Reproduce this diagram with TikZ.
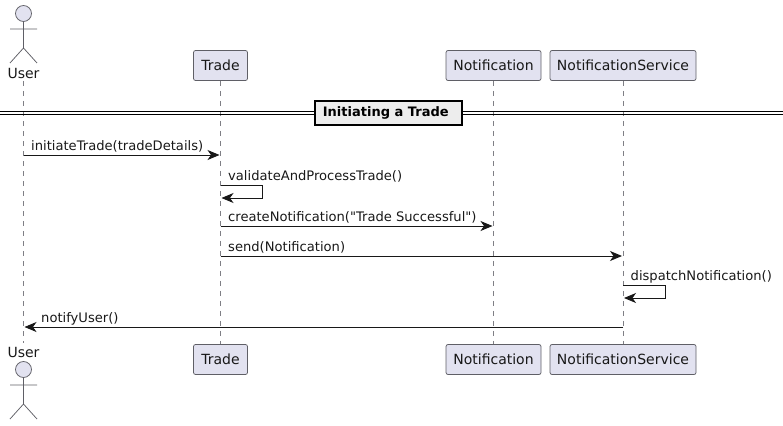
\documentclass[tikz,border=0pt]{standalone}
\usepackage{fontspec}
\newfontfamily\djv{DejaVu Sans}
\usetikzlibrary{arrows.meta}
\definecolor{pfill}{HTML}{E2E2F0}
\definecolor{pline}{HTML}{5F5F66}
\definecolor{ink}{HTML}{181818}
\tikzset{
  x=1pt,y=-1pt,
  part/.style={draw=pline,fill=pfill,rounded corners=2pt,line width=0.75pt,minimum height=30pt,inner sep=0pt,text=ink,font=\djv\fontsize{14}{16}\selectfont},
  actorname/.style={inner sep=0pt,text=ink,font=\djv\fontsize{14}{16}\selectfont},
  head/.style={circle,draw=pline,fill=pfill,line width=0.75pt,minimum size=16pt,inner sep=0pt},
  limb/.style={draw=pline,line width=0.75pt},
  life/.style={draw=pline!80,line width=0.5pt,dash pattern=on 5pt off 5pt},
  msg/.style={draw=ink,line width=0.9pt,-{Stealth[length=12pt,width=10pt,inset=3.5pt]}},
  msgtext/.style={inner sep=0pt,anchor=base west,text=ink,font=\djv\fontsize{13.1}{15}\selectfont},
  divline/.style={draw=black,line width=0.9pt},
  divbox/.style={draw=black,fill=black!7,line width=1.6pt,minimum width=147pt,minimum height=24pt,inner sep=0pt,font=\djv\fontsize{13}{15}\selectfont\bfseries}
}
\begin{document}
\begin{tikzpicture}
\useasboundingbox (0,0) rectangle (783,425);
% lifeline end nodes
\node[actorname] (ut) at (23.5,73) {User};
\node[actorname] (ub) at (23.5,352) {User};
\node[part,minimum width=54pt] (tt) at (220.5,65.5) {Trade};
\node[part,minimum width=54pt] (tb) at (220.5,359.5) {Trade};
\node[part,minimum width=95pt] (nt) at (493.5,65.5) {Notification};
\node[part,minimum width=95pt] (nb) at (493.5,359.5) {Notification};
\node[part,minimum width=146pt] (st) at (623,65.5) {NotificationService};
\node[part,minimum width=146pt] (sb) at (623,359.5) {NotificationService};
% lifelines
\draw[life] (23.5,81) -- (23.5,343);
\draw[life] (tt.south) -- (tb.north);
\draw[life] (nt.south) -- (nb.north);
\draw[life] (st.south) -- (sb.north);
% actors
\node[head] (h1) at (23.5,13.5) {};
\coordinate (a1) at (23.5,48);
\draw[limb] (h1.south) -- (a1) (10,29) -- (37,29) (10,63) -- (a1) -- (37,63);
\node[head] (h2) at (23.5,369.5) {};
\coordinate (a2) at (23.5,404);
\draw[limb] (h2.south) -- (a2) (10,385) -- (37,385) (10,419) -- (a2) -- (37,419);
% divider
\node[divbox] (dv) at (388.5,113) {\hspace*{-5.5pt}Initiating a Trade};
\draw[divline] (0,111.7) -- (dv.west |- 0,111.7) (dv.east |- 0,111.7) -- (783,111.7);
\draw[divline] (0,114.3) -- (dv.west |- 0,114.3) (dv.east |- 0,114.3) -- (783,114.3);
% messages
\coordinate (u1) at (23.5,155); \coordinate (t1) at (219.5,155);
\draw[msg] (u1) -- (t1);
\node[msgtext] (m1) at (31,150) {initiateTrade(tradeDetails)};
\coordinate (t2) at (220.5,185); \coordinate (t3) at (221.5,198);
\draw[msg] (t2) -- (262.5,185) -- (262.5,198) -- (t3);
\node[msgtext] (m2) at (228,180) {validateAndProcessTrade()};
\coordinate (t4) at (220.5,226); \coordinate (n4) at (492.5,226);
\draw[msg] (t4) -- (n4);
\node[msgtext] (m3) at (228,221) {createNotification("Trade Successful")};
\coordinate (t5) at (220.5,256); \coordinate (s5) at (622,256);
\draw[msg] (t5) -- (s5);
\node[msgtext] (m4) at (228,251) {send(Notification)};
\coordinate (s6) at (623,285); \coordinate (s7) at (624,298);
\draw[msg] (s6) -- (665.5,285) -- (665.5,298) -- (s7);
\node[msgtext] (m5) at (630.5,280) {dispatchNotification()};
\coordinate (s8) at (623,327); \coordinate (u8) at (24.5,327);
\draw[msg] (s8) -- (u8);
\node[msgtext] (m6) at (41,322) {notifyUser()};
\end{tikzpicture}
\end{document}
